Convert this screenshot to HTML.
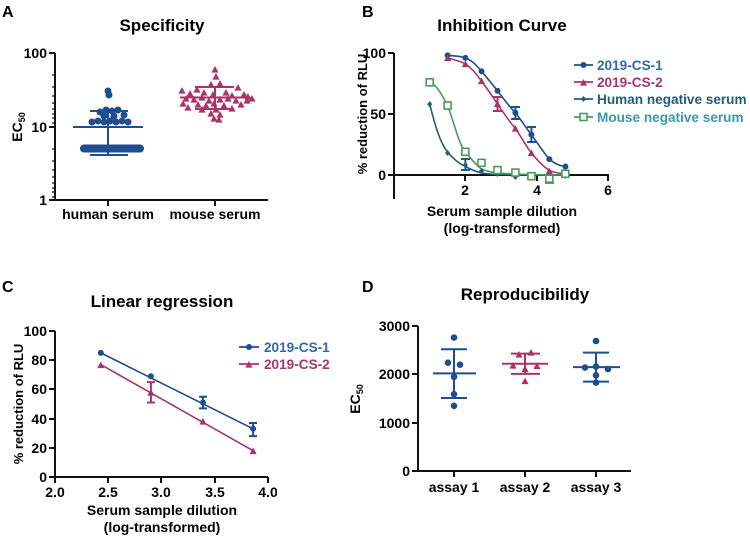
<!DOCTYPE html>
<html><head><meta charset="utf-8"><style>
body{margin:0;background:#fff}
svg{display:block;font-family:"Liberation Sans",Arial,sans-serif;font-weight:bold}
</style></head><body>
<svg width="750" height="536" viewBox="0 0 750 536" xmlns="http://www.w3.org/2000/svg">
<defs>
<g id="tm"><path d="M0,-4 L3.6,2.6 L-3.6,2.6Z" fill="#a8356a"/></g>
</defs>
<text x="2" y="17" font-size="16">A</text>
<text x="362" y="17" font-size="16">B</text>
<text x="2" y="292" font-size="16">C</text>
<text x="362" y="292" font-size="16">D</text>

<!-- ===== Panel A ===== -->
<text x="162" y="31" font-size="17" text-anchor="middle">Specificity</text>
<g stroke="#111" stroke-width="2" fill="none">
<path d="M55,53 V200 H268"/>
<path d="M49,53H55 M49,127H55 M49,200H55 M108,200V206 M215,200V206"/>
<path d="M52,75H55 M52,87H55 M52,96H55 M52,103H55 M52,109H55 M52,114H55 M52,118H55 M52,123H55 M52,149H55 M52,161H55 M52,170H55 M52,177H55 M52,183H55 M52,188H55 M52,192H55 M52,197H55" stroke-width="1.3"/>
</g>
<g font-size="14" text-anchor="end">
<text x="47" y="58">100</text><text x="47" y="132">10</text><text x="47" y="205">1</text>
</g>
<g font-size="14" text-anchor="middle">
<text x="108" y="219">human serum</text><text x="215" y="219">mouse serum</text>
</g>
<text transform="translate(22,127) rotate(-90)" font-size="14" text-anchor="middle">EC<tspan font-size="9" dy="3">50</tspan></text>
<g fill="#1f4e8c">
<rect x="80" y="144.5" width="64" height="8" rx="4"/>
<circle cx="108" cy="91" r="3.5"/><circle cx="109" cy="95" r="3.5"/>
<circle cx="92" cy="122" r="3.5"/><circle cx="98" cy="121" r="3.5"/><circle cx="104" cy="122" r="3.5"/><circle cx="110" cy="121" r="3.5"/><circle cx="116" cy="122" r="3.5"/><circle cx="122" cy="121" r="3.5"/><circle cx="128" cy="122" r="3.5"/>
<circle cx="100" cy="112" r="3.5"/><circle cx="106" cy="110" r="3.5"/><circle cx="112" cy="111" r="3.5"/><circle cx="118" cy="110" r="3.5"/><circle cx="104" cy="116" r="3.5"/><circle cx="114" cy="116" r="3.5"/><circle cx="124" cy="115" r="3.5"/>
</g>
<g stroke="#1f4e8c" stroke-width="2">
<path d="M73,127H143 M90,111H128 M90,155H128 M108,111V155"/>
</g>
<g>
<use href="#tm" x="215" y="70"/><use href="#tm" x="216" y="77"/>
<use href="#tm" x="211" y="85"/><use href="#tm" x="220" y="84"/><use href="#tm" x="238" y="88"/><use href="#tm" x="182" y="91"/><use href="#tm" x="197" y="90"/>
<use href="#tm" x="190" y="94"/><use href="#tm" x="204" y="93"/><use href="#tm" x="213" y="95"/><use href="#tm" x="226" y="93"/><use href="#tm" x="232" y="96"/><use href="#tm" x="244" y="95"/><use href="#tm" x="248" y="97"/>
<use href="#tm" x="186" y="99"/><use href="#tm" x="194" y="100"/><use href="#tm" x="202" y="98"/><use href="#tm" x="209" y="101"/><use href="#tm" x="220" y="100"/><use href="#tm" x="228" y="99"/><use href="#tm" x="236" y="101"/><use href="#tm" x="247" y="101"/><use href="#tm" x="252" y="99"/>
<use href="#tm" x="183" y="104"/><use href="#tm" x="198" y="105"/><use href="#tm" x="206" y="106"/><use href="#tm" x="214" y="104"/><use href="#tm" x="224" y="106"/><use href="#tm" x="241" y="105"/>
<use href="#tm" x="188" y="108"/><use href="#tm" x="202" y="110"/><use href="#tm" x="216" y="110"/><use href="#tm" x="232" y="109"/>
<use href="#tm" x="211" y="114"/><use href="#tm" x="220" y="115"/><use href="#tm" x="214" y="119"/><use href="#tm" x="219" y="120"/>
</g>
<g stroke="#a8356a" stroke-width="2">
<path d="M180,97.5H250 M195,87H234 M195,109H234 M215,87V109"/>
</g>

<!-- ===== Panel B ===== -->
<text x="502" y="31" font-size="17" text-anchor="middle">Inhibition Curve</text>
<g stroke="#111" stroke-width="2" fill="none">
<path d="M394,53 V199 M394,175 H609"/>
<path d="M388,53H394 M388,114H394 M388,175H394 M465,175V181 M537,175V181 M608,175V181"/>
</g>
<g font-size="14" text-anchor="end"><text x="386" y="58">100</text><text x="386" y="119">50</text><text x="386" y="180">0</text></g>
<g font-size="14" text-anchor="middle"><text x="465" y="195">2</text><text x="537" y="195">4</text><text x="608" y="195">6</text>
<text x="502" y="216">Serum sample dilution</text><text x="502" y="233">(log-transformed)</text></g>
<text transform="translate(367,114) rotate(-90)" font-size="13" text-anchor="middle">% reduction of  RLU</text>
<g fill="none" stroke-width="1.6" stroke-linejoin="round">
<path d="M447.6,55.4 C455,56 460,56 465.4,57.9 C473,61 477,66 481.5,71.3 C489,80 493,85 497.5,90.8 C505,101 510,107 515.4,112.8 C522,121 526,128 531.4,134.7 C538,144 544,153 549.3,159.1 C555,164 560,166 565.4,166.5" stroke="#1f4e8c"/>
<path d="M447.6,57.9 C455,60 460,61 465.4,64 C473,69 477,75 481.5,81.1 C489,91 493,97 497.5,104.2 C505,115 510,122 515.4,128.6 C522,138 526,146 531.4,153 C538,161 544,167 549.3,170.3 C555,173 560,173.5 565.4,173.8" stroke="#a8356a"/>
<path d="M429.7,104.2 C435,125 440,143 447.6,152 C454,160 460,164 465.4,166.5 C472,170 477,172 481.5,173 C490,174.5 500,175 565.4,175" stroke="#1f5d7a"/>
<path d="M429.7,82.3 C437,85 442,95 447.6,105.5 C455,125 458,142 465.4,152 C472,160 477,166 481.5,169 C490,173 500,174.5 565.4,175" stroke="#4a9a5a"/>
</g>
<g stroke-width="2" fill="none">
<path d="M515.4,107V119 M511,107H520 M511,119H520 M531.4,127V142 M527,127H536 M527,142H536" stroke="#1f4e8c"/>
<path d="M497.5,97V111 M493,97H502 M493,111H502" stroke="#a8356a"/>
<path d="M465.4,159V170 M461,159H470 M461,170H470" stroke="#1f5d7a"/>
<path d="M549.3,175V183 M545,183H554" stroke="#3aa0a8"/>
</g>
<g fill="#1f4e8c"><circle cx="447.6" cy="55.4" r="3"/><circle cx="465.4" cy="57.9" r="3"/><circle cx="481.5" cy="71.3" r="3"/><circle cx="497.5" cy="90.8" r="3"/><circle cx="515.4" cy="112.8" r="3"/><circle cx="531.4" cy="134.7" r="3"/><circle cx="549.3" cy="159.1" r="3"/><circle cx="565.4" cy="166.5" r="3"/></g>
<g><use href="#tm" x="447.6" y="58.5"/><use href="#tm" x="465.4" y="64.5"/><use href="#tm" x="481.5" y="81.5"/><use href="#tm" x="497.5" y="104.5"/><use href="#tm" x="515.4" y="129"/><use href="#tm" x="531.4" y="153.5"/><use href="#tm" x="549.3" y="171.5"/><use href="#tm" x="565.4" y="174"/></g>
<g fill="#1f5d7a"><path d="M429.7,101l2.5,3.2-2.5,3.2-2.5-3.2z"/><path d="M447.6,150l2.5,3-2.5,3-2.5-3z"/><path d="M465.4,162l2.5,3-2.5,3-2.5-3z"/><path d="M481.5,168l2.5,3-2.5,3-2.5-3z"/><path d="M497.5,171l2.5,3-2.5,3-2.5-3z"/><path d="M515.4,174l2.5,3-2.5,3-2.5-3z"/><path d="M565.4,173l2.5,3-2.5,3-2.5-3z"/></g>
<g fill="#fff" stroke="#4a9a5a" stroke-width="1.6"><rect x="426.2" y="78.8" width="7" height="7"/><rect x="444.1" y="102" width="7" height="7"/><rect x="461.9" y="148.3" width="7" height="7"/><rect x="478" y="159.3" width="7" height="7"/><rect x="494" y="166.6" width="7" height="7"/><rect x="511.9" y="169.1" width="7" height="7"/><rect x="527.9" y="172.7" width="7" height="7"/><rect x="545.8" y="175.2" width="7" height="7"/><rect x="561.9" y="170.3" width="7" height="7"/></g>
<g stroke-width="1.8">
<path d="M574,65H593" stroke="#1f4e8c"/><circle cx="583.5" cy="65" r="3" fill="#1f4e8c"/>
<path d="M574,82H593" stroke="#a8356a"/><use href="#tm" x="583.5" y="83"/>
<path d="M574,99H593" stroke="#1f5d7a"/><path d="M583.5,96l2.5,3-2.5,3-2.5-3z" fill="#1f5d7a" stroke="none"/>
<path d="M574,117H593" stroke="#4a9a5a"/><rect x="580" y="113.5" width="7" height="7" fill="#fff" stroke="#4a9a5a" stroke-width="1.6"/>
</g>
<g font-size="13.6"><text x="597" y="70" fill="#2e6aa8">2019-CS-1</text><text x="597" y="87" fill="#a8356a">2019-CS-2</text><text x="597" y="104" fill="#1f5d7a">Human negative serum</text><text x="597" y="122" fill="#3a9aa8">Mouse negative  serum</text></g>

<!-- ===== Panel C ===== -->
<text x="162" y="307" font-size="17" text-anchor="middle">Linear regression</text>
<g stroke="#111" stroke-width="2" fill="none">
<path d="M55,331 V477 H268"/>
<path d="M49,331H55 M49,360H55 M49,389H55 M49,419H55 M49,448H55 M49,477H55 M55,477V483 M108,477V483 M161,477V483 M215,477V483 M268,477V483"/>
</g>
<g font-size="14" text-anchor="end"><text x="47" y="336">100</text><text x="47" y="365">80</text><text x="47" y="394">60</text><text x="47" y="424">40</text><text x="47" y="453">20</text><text x="47" y="482">0</text></g>
<g font-size="14" text-anchor="middle"><text x="55" y="497">2.0</text><text x="108" y="497">2.5</text><text x="161" y="497">3.0</text><text x="215" y="497">3.5</text><text x="268" y="497">4.0</text>
<text x="162" y="515">Serum sample dilution</text><text x="162" y="532">(log-transformed)</text></g>
<text transform="translate(23,404) rotate(-90)" font-size="13" text-anchor="middle">% reduction of  RLU</text>
<g stroke-width="1.6" fill="none">
<path d="M100.8,352.9 L253.1,428.8" stroke="#1f4e8c"/>
<path d="M100.8,364.6 L253.1,450.7" stroke="#a8356a"/>
<path d="M203,396.7V408.4 M199,396.7H207 M199,408.4H207 M253.1,423V436.1 M249,423H257 M249,436.1H257" stroke="#1f4e8c" stroke-width="2"/>
<path d="M150.9,382.1V402.5 M147,382.1H155 M147,402.5H155" stroke="#a8356a" stroke-width="2"/>
</g>
<g fill="#1f4e8c"><circle cx="100.8" cy="352.9" r="3"/><circle cx="150.9" cy="376.3" r="3"/><circle cx="203" cy="402.5" r="3"/><circle cx="253.1" cy="428.8" r="3"/></g>
<g><use href="#tm" x="100.8" y="365.5"/><use href="#tm" x="150.9" y="393"/><use href="#tm" x="203" y="422"/><use href="#tm" x="253.1" y="451.5"/></g>
<g stroke-width="1.8"><path d="M239,347H259" stroke="#1f4e8c"/><circle cx="249" cy="347" r="3" fill="#1f4e8c"/><path d="M239,364H259" stroke="#a8356a"/><use href="#tm" x="249" y="365"/></g>
<g font-size="13.6"><text x="264" y="352" fill="#2e6aa8">2019-CS-1</text><text x="264" y="369" fill="#a8356a">2019-CS-2</text></g>

<!-- ===== Panel D ===== -->
<text x="525" y="300" font-size="17" text-anchor="middle">Reproducibilidy</text>
<g stroke="#111" stroke-width="2" fill="none">
<path d="M418,326 V471 H631"/>
<path d="M412,326H418 M412,374H418 M412,423H418 M412,471H418 M454,471V477 M525,471V477 M596,471V477"/>
</g>
<g font-size="14" text-anchor="end"><text x="410" y="331">3000</text><text x="410" y="379">2000</text><text x="410" y="428">1000</text><text x="410" y="476">0</text></g>
<g font-size="14" text-anchor="middle"><text x="454" y="492">assay 1</text><text x="525" y="492">assay 2</text><text x="596" y="492">assay 3</text></g>
<text transform="translate(360,399) rotate(-90)" font-size="14" text-anchor="middle">EC<tspan font-size="9" dy="3">50</tspan></text>
<g stroke="#1f4e8c" stroke-width="2"><path d="M433,373.4H476 M441,349.2H467 M441,398H467 M454,349.2V398"/><path d="M573,367.1H620 M583,352.6H609 M583,381.6H609 M596,352.6V381.6"/></g>
<g stroke="#a8356a" stroke-width="2"><path d="M502,363.7H548 M511,353.6H540 M511,373.9H540 M525,353.6V373.9"/></g>
<g fill="#1f4e8c"><circle cx="454" cy="337.6" r="3.3"/><circle cx="448" cy="362.7" r="3.3"/><circle cx="460" cy="364.7" r="3.3"/><circle cx="454" cy="376.8" r="3.3"/><circle cx="454" cy="394.2" r="3.3"/><circle cx="454" cy="405.8" r="3.3"/>
<circle cx="596" cy="341" r="3.3"/><circle cx="585" cy="367.6" r="3.3"/><circle cx="596" cy="366.6" r="3.3"/><circle cx="608" cy="369" r="3.3"/><circle cx="596" cy="375.3" r="3.3"/><circle cx="596" cy="382.6" r="3.3"/></g>
<g><use href="#tm" x="519" y="355"/><use href="#tm" x="531" y="353"/><use href="#tm" x="513" y="366"/><use href="#tm" x="525" y="369.5"/><use href="#tm" x="537" y="366.5"/><use href="#tm" x="525" y="381.5"/></g>
</svg>
</body></html>
